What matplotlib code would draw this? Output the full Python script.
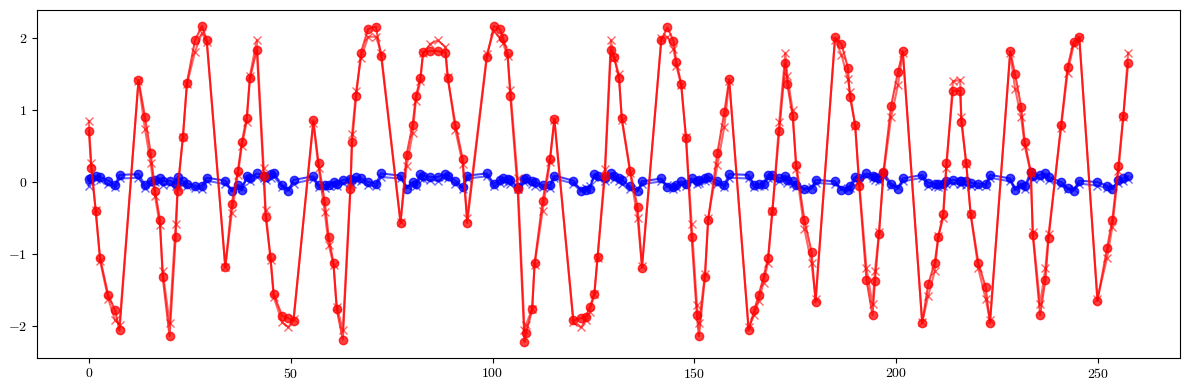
import matplotlib
matplotlib.use("Agg")
import matplotlib.pyplot as plt
import numpy as np

plt.rcParams['font.family'] = 'serif'
plt.rcParams['font.serif'] = ['cmr10']
plt.rcParams['mathtext.fontset'] = 'cm'
plt.rcParams['axes.formatter.use_mathtext'] = True

# positions (shared by the four series)
x = [
    0.0, 0.6, 1.7, 2.8, 4.8, 6.5, 7.6, 12.3, 13.9, 15.3, 16.4, 17.6, 18.3, 20.0, 21.5, 22.0, 23.3, 24.3, 26.3, 28.0, 29.2,
    33.8, 35.4, 36.9, 37.9, 39.1, 39.9, 41.6, 43.3, 43.8, 45.0, 45.8, 47.9, 49.4, 50.7, 55.6, 56.9, 58.4, 59.4, 60.6, 61.4, 62.9, 64.8, 65.2, 66.2,
    67.4, 69.2, 71.1, 72.4, 77.2, 78.7, 80.2, 81.0, 82.1, 82.8, 84.6, 86.4, 88.3, 88.9, 90.8, 92.6, 93.7, 98.6,
    100.3, 101.8, 102.6, 103.7, 104.4, 106.2, 107.9, 108.3, 109.8, 110.4, 112.4, 114.2, 115.3, 120.0, 121.9, 123.1, 124.1, 125.2, 126.0, 127.8, 129.3, 130.1, 131.3, 132.0,
    134.1, 135.9, 137.0, 141.8, 143.3, 144.8, 145.5, 146.7, 147.9, 149.3, 150.6, 151.1, 152.6, 153.4, 155.7, 157.4, 158.6, 163.4, 164.8, 165.9,
    167.1, 168.2, 169.3, 171.0, 172.5, 173.0, 174.3, 175.2, 177.2, 179.0, 180.0, 184.8, 186.4, 188.0, 188.5, 189.8, 190.8, 192.6, 194.1, 194.7, 195.7, 196.8, 198.7,
    200.4, 201.6, 206.4, 207.9, 209.5, 210.4, 211.6, 212.4, 214.0, 215.8, 216.1, 217.3, 218.4, 220.3, 222.1, 223.2, 228.2, 229.4, 230.9, 231.8, 233.3, 233.8, 235.6, 236.9, 237.7,
    240.8, 242.4, 243.9, 245.3, 249.8, 252.2, 253.5, 255.0, 256.2, 257.4,
]

red_o = [
    0.71, 0.20, -0.40, -1.06, -1.57, -1.78, -2.06, 1.42, 0.91, 0.41, -0.12, -0.52, -1.32, -2.14, -0.77, -0.12, 0.62, 1.38, 1.97, 2.17, 1.98,
    -1.18, -0.30, 0.15, 0.56, 0.89, 1.44, 1.84, 0.08, -0.49, -1.04, -1.56, -1.86, -1.89, -1.93, 0.86, 0.26, -0.26, -0.76, -1.13, -1.77, -2.19, -0.09, 0.56, 1.19,
    1.80, 2.13, 2.16, 1.75, -0.57, 0.38, 0.80, 1.19, 1.44, 1.81, 1.82, 1.82, 1.80, 1.44, 0.80, 0.32, -0.57, 1.74,
    2.17, 2.13, 2.00, 1.80, 1.19, -0.09, -2.22, -2.10, -1.77, -1.13, -0.26, 0.32, 0.88, -1.92, -1.89, -1.87, -1.73, -1.56, -1.04, 0.08, 1.84, 1.74, 1.44, 0.89,
    0.15, -0.35, -1.19, 1.98, 2.15, 1.96, 1.67, 1.37, 0.61, -0.77, -1.85, -2.14, -1.32, -0.52, 0.41, 0.97, 1.43, -2.06, -1.78, -1.57,
    -1.32, -1.06, -0.40, 0.71, 1.65, 1.36, 0.92, 0.24, -0.52, -0.97, -1.67, 2.01, 1.92, 1.59, 1.18, 0.80, -0.06, -1.36, -1.85, -1.38, -0.72, 0.14, 1.06,
    1.53, 1.82, -1.96, -1.42, -1.12, -0.76, -0.44, 0.27, 1.27, 1.27, 0.83, 0.27, -0.44, -1.12, -1.46, -1.96, 1.82, 1.50, 1.05, 0.56, 0.14, -0.74, -1.85, -1.36, -0.78,
    0.80, 1.60, 1.95, 2.02, -1.65, -0.92, -0.52, 0.23, 0.92, 1.65,
]

red_x = [
    0.85, 0.26, -0.39, -1.10, -1.62, -1.92, -1.98, 1.40, 0.74, 0.27, -0.20, -0.60, -1.24, -1.96, -0.58, -0.08, 0.63, 1.36, 1.81, 2.07, 1.95,
    -1.18, -0.43, 0.10, 0.50, 0.84, 1.48, 1.97, 0.20, -0.39, -1.08, -1.60, -1.95, -2.02, -1.90, 0.82, 0.20, -0.41, -0.87, -1.15, -1.73, -2.05, -0.05, 0.67, 1.27,
    1.72, 2.02, 2.02, 1.80, -0.55, 0.22, 0.68, 1.13, 1.40, 1.80, 1.92, 1.97, 1.88, 1.46, 0.72, 0.25, -0.50, 1.78,
    2.10, 2.00, 1.93, 1.75, 1.28, 0.05, -2.05, -1.98, -1.76, -1.15, -0.40, 0.28, 0.86, -1.95, -2.02, -1.92, -1.80, -1.55, -1.05, 0.18, 1.97, 1.72, 1.50, 0.86,
    0.12, -0.50, -1.17, 2.00, 2.02, 1.85, 1.62, 1.35, 0.63, -0.58, -1.71, -1.96, -1.28, -0.50, 0.24, 0.77, 1.40, -2.02, -1.85, -1.65,
    -1.40, -1.12, -0.40, 0.84, 1.79, 1.48, 1.00, 0.18, -0.65, -1.13, -1.62, 1.98, 1.77, 1.43, 1.25, 0.78, 0.00, -1.20, -1.70, -1.24, -0.70, 0.10, 0.90,
    1.35, 1.80, -1.95, -1.58, -1.24, -0.75, -0.50, 0.20, 1.40, 1.42, 0.90, 0.25, -0.45, -1.20, -1.62, -1.92, 1.80, 1.30, 0.90, 0.50, 0.12, -0.70, -1.70, -1.20, -0.72,
    0.75, 1.52, 1.90, 2.00, -1.62, -1.05, -0.62, 0.15, 0.90, 1.80,
]

blue_o = [
    0.04, 0.06, 0.08, 0.07, 0.02, -0.04, 0.10, 0.11, -0.04, 0.02, 0.03, 0.05, 0.01, 0.02, -0.02, 0.07, 0.01, -0.02, -0.05, -0.05, 0.06,
    0.02, -0.13, -0.04, -0.11, 0.09, 0.05, 0.12, 0.09, 0.07, 0.11, 0.12, -0.04, -0.12, 0.03, 0.08, -0.04, -0.04, -0.04, 0.00, -0.02, 0.03, 0.04, 0.03, 0.07,
    0.05, 0.00, -0.02, 0.12, 0.09, -0.09, 0.00, -0.02, 0.11, 0.09, 0.07, 0.07, 0.11, 0.09, 0.02, -0.07, 0.09, 0.12,
    -0.02, 0.03, 0.05, 0.04, 0.03, -0.07, 0.04, 0.05, 0.01, 0.00, -0.04, -0.04, 0.09, 0.02, -0.13, -0.11, -0.09, 0.11, 0.09, 0.05, 0.12, 0.08, 0.05, 0.03,
    -0.06, -0.13, 0.01, 0.05, -0.07, -0.07, -0.04, 0.01, -0.02, 0.05, 0.01, 0.03, 0.05, 0.07, 0.02, -0.04, 0.11, 0.10, -0.04, -0.03,
    -0.02, 0.10, 0.10, 0.05, 0.09, 0.03, 0.01, -0.04, -0.09, -0.09, 0.03, 0.01, -0.11, -0.11, -0.05, 0.07, 0.05, 0.12, 0.09, 0.07, 0.05, 0.13, -0.02,
    -0.09, 0.05, 0.10, -0.01, -0.02, -0.03, -0.02, 0.02, 0.03, 0.02, 0.01, 0.01, -0.01, -0.02, -0.03, 0.10, 0.05, -0.11, -0.02, -0.06, 0.14, 0.08, 0.10, 0.12, 0.07,
    0.00, -0.08, -0.12, 0.02, 0.00, -0.05, -0.10, 0.03, 0.05, 0.08,
]

blue_x = [
    -0.05, 0.02, 0.04, 0.03, -0.03, -0.07, 0.05, 0.06, -0.08, -0.02, 0.00, 0.01, -0.04, -0.03, -0.06, 0.02, -0.03, -0.06, -0.08, -0.09, 0.02,
    -0.03, -0.10, -0.07, -0.08, 0.04, 0.01, 0.07, 0.05, 0.03, 0.06, 0.08, -0.07, -0.09, -0.02, 0.04, -0.07, -0.08, -0.06, -0.04, -0.05, -0.01, 0.00, -0.02, 0.03,
    0.01, -0.04, -0.06, 0.07, 0.05, -0.06, -0.04, -0.06, 0.06, 0.04, 0.03, 0.02, 0.07, 0.05, -0.02, -0.09, 0.05, 0.08,
    -0.06, -0.01, 0.01, 0.00, -0.02, -0.09, 0.00, 0.01, -0.03, -0.05, -0.07, -0.08, 0.05, -0.02, -0.10, -0.08, -0.06, 0.07, 0.05, 0.01, 0.08, 0.04, 0.01, -0.02,
    -0.09, -0.10, -0.03, 0.01, -0.04, -0.10, -0.07, -0.03, -0.05, 0.02, -0.03, -0.01, 0.01, 0.03, -0.02, -0.07, 0.06, 0.05, -0.07, -0.06,
    -0.05, 0.06, 0.05, 0.01, 0.05, -0.01, -0.03, -0.07, -0.10, -0.07, -0.01, -0.03, -0.08, -0.09, -0.08, 0.03, 0.01, 0.08, 0.05, 0.03, 0.01, 0.09, -0.05,
    -0.07, 0.01, 0.06, -0.05, -0.06, -0.07, -0.05, -0.02, -0.01, -0.03, -0.02, -0.04, -0.05, -0.06, -0.06, 0.06, 0.01, -0.08, -0.06, -0.09, 0.09, 0.04, 0.06, 0.08, 0.03,
    -0.04, -0.10, -0.09, -0.02, -0.05, -0.08, -0.07, -0.01, 0.01, 0.04,
]

fig, ax = plt.subplots(figsize=(11.89, 3.9), dpi=100)

# courbes bleues d'abord, rouges par-dessus
ax.plot(x, blue_x, 'bx-', alpha=0.6, lw=1.5, ms=6)
ax.plot(x, blue_o, 'bo-', alpha=0.75, lw=1.5, ms=6)
ax.plot(x, red_x, 'rx-', alpha=0.6, lw=1.5, ms=6)
ax.plot(x, red_o, 'ro-', alpha=0.75, lw=1.5, ms=6)

ax.set_xticks([0, 50, 100, 150, 200, 250])
ax.set_yticks([-2, -1, 0, 1, 2])

fig.subplots_adjust(left=0.031, right=0.9925, top=0.974, bottom=0.083)
plt.savefig("out.png")
